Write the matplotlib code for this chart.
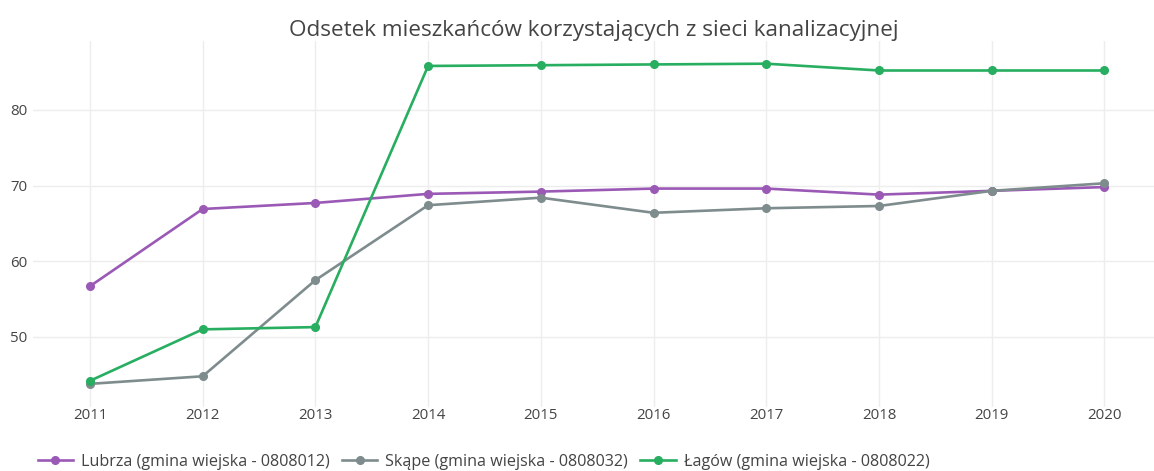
import matplotlib
matplotlib.use("Agg")
from matplotlib import pyplot as plt

lata = [2011, 2012, 2013, 2014, 2015, 2016, 2017, 2018, 2019, 2020]

lubrza = [56.7, 66.9, 67.7, 68.9, 69.2, 69.6, 69.6, 68.8, 69.3, 69.8]
skape = [43.8, 44.8, 57.5, 67.4, 68.4, 66.4, 67.0, 67.3, 69.3, 70.3]
lagow = [44.2, 51.0, 51.3, 85.8, 85.9, 86.0, 86.1, 85.2, 85.2, 85.2]

nazwy = ["Lubrza (gmina wiejska - 0808012)",
         "Skąpe (gmina wiejska - 0808032)",
         "Łagów (gmina wiejska - 0808022)"]
kolory = ["#9b59b6", "#7f8c8d", "#27ae60"]

plt.rcParams['font.family'] = ['Open Sans', 'DejaVu Sans']

fig = plt.figure(figsize=(11.54, 4.71), dpi=100)
ax = fig.add_axes([0.0286, 0.136, 0.9714, 0.777])

for serie, nazwa, kolor in zip([lubrza, skape, lagow], nazwy, kolory):
    ax.plot(lata, serie, color=kolor, lw=1.9, marker="o", markersize=5.5, label=nazwa)

ax.set_xlim(2010.495, 2020.44)
ax.set_ylim(40.75, 89.1)
ax.set_xticks(lata)
ax.set_yticks([50, 60, 70, 80])
ax.grid(True, color="#ededed", lw=1)
ax.set_axisbelow(True)
for s in ax.spines.values():
    s.set_visible(False)
ax.tick_params(length=0, colors="#444444", labelsize=10.8)
ax.tick_params(axis="x", pad=1)
ax.tick_params(axis="y", pad=4)

ax.set_title("Odsetek mieszkańców korzystających z sieci kanalizacyjnej",
             fontsize=16.2, color="#444444", pad=3)

fig.legend(loc="lower left", bbox_to_anchor=(0.02, -0.028), ncol=3, frameon=False,
           fontsize=11.6, labelcolor="#444444", handlelength=2.2, columnspacing=0.75,
           handletextpad=0.5)

fig.savefig("out.png", dpi=100, facecolor="white")
